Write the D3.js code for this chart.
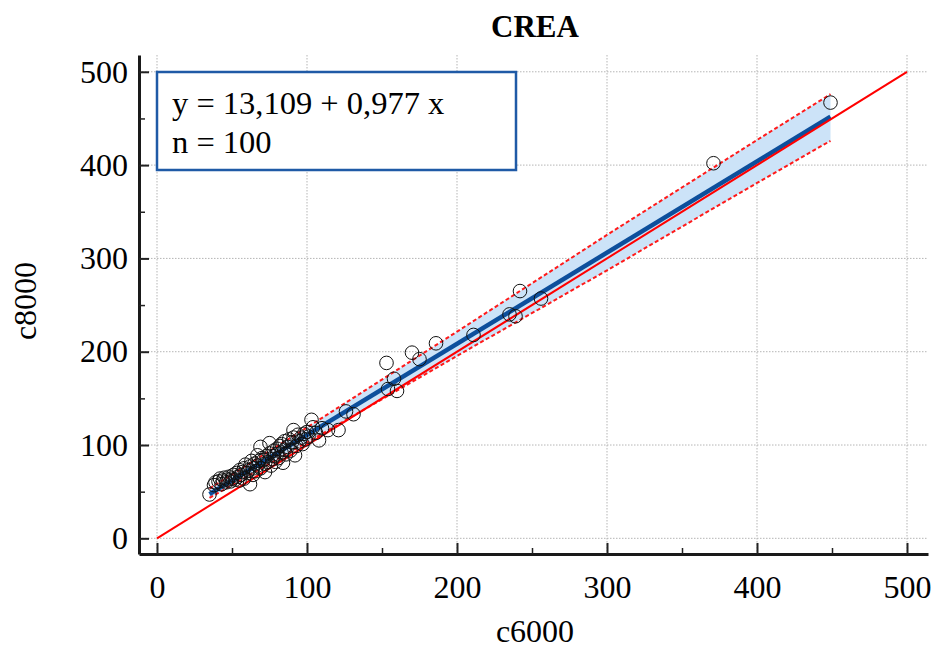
<!DOCTYPE html>
<html>
<head>
<meta charset="utf-8">
<script src="https://cdn.jsdelivr.net/npm/d3@7"></script>
<style>
  html, body { margin: 0; padding: 0; background: #fff; }
  svg { display: block; }
  text { font-family: "Liberation Serif", "Times New Roman", serif; fill: #000; }
</style>
</head>
<body>
<svg id="chart" width="935" height="648"></svg>
<script>
// Method comparison: c6000 vs c8000 (CREA)
const title = "CREA";
const xLabel = "c6000";
const yLabel = "c8000";

const c6000 = [
  449, 371, 256, 242, 235, 239, 211, 186, 170, 175, 153, 158, 154, 160, 126, 131, 121, 114, 108, 104, 103, 110,
  35, 38, 39, 41, 42, 43, 44, 45, 46, 47,
  48, 49, 50, 51, 52, 53, 54, 55, 55, 56,
  57, 58, 58, 59, 60, 61, 62, 62, 63, 64,
  64, 65, 66, 67, 67, 68, 69, 69, 70, 71,
  72, 72, 73, 74, 75, 75, 76, 77, 78, 78,
  79, 80, 80, 81, 82, 83, 83, 84, 85, 85,
  86, 87, 88, 89, 90, 91, 91, 92, 93, 94,
  95, 96, 97, 98, 99, 100, 101, 106
];
const c8000 = [
  467, 402, 257, 265, 240, 238, 218, 209, 199, 192, 188, 171, 160, 158, 136, 133, 116, 116, 105, 119, 127, 118,
  47, 57, 60, 61, 64, 58, 62, 65, 60, 63,
  66, 61, 64, 68, 63, 70, 66, 73, 62, 68,
  71, 75, 64, 79, 70, 73, 58, 77, 83, 68,
  75, 80, 72, 89, 78, 83, 98, 75, 86, 84,
  71, 80, 88, 82, 102, 91, 78, 85, 94, 88,
  82, 96, 90, 86, 99, 101, 92, 81, 95, 104,
  90, 98, 106, 94, 103, 116, 108, 89, 99, 111,
  104, 108, 101, 112, 106, 114, 109, 113
];

// Fitted line (as printed in the legend) and its x extent
const intercept = 13.109;
const slope = 0.977;
const fitRange = [35, 449];

// Confidence band around the fitted line
const bandX     = [35,   100,   200,   300,   400,   449];
const bandUpper = [53.3, 118.8, 221.5, 325.2, 426.9, 476.0];
const bandLower = [43.3, 102.8, 195.5, 287.2, 380.9, 426.0];

// Identity line
const identity = [0, 500];

const majorTicks = [0, 100, 200, 300, 400, 500];
const minorTicks = [50, 150, 250, 350, 450];

const legendLines = ["y = 13,109 + 0,977 x", "n = 100"];

const svg = d3.select("#chart");

const x = d3.scaleLinear().domain([-12, 514]).range([139, 928]);
const y = d3.scaleLinear().domain([-16.8, 518]).range([554, 55]);

// grid
const grid = svg.append("g").attr("stroke", "#b5b5b5").attr("stroke-width", 1).attr("stroke-dasharray", "1.5,1.5");
grid.selectAll("line.v").data(majorTicks).join("line")
  .attr("x1", d => x(d)).attr("x2", d => x(d))
  .attr("y1", y.range()[1]).attr("y2", y.range()[0]);
grid.selectAll("line.h").data(majorTicks).join("line")
  .attr("y1", d => y(d)).attr("y2", d => y(d))
  .attr("x1", x.range()[0]).attr("x2", x.range()[1]);

// confidence band
const band = bandX.map((v, i) => ({ x: v, lo: bandLower[i], hi: bandUpper[i] }));
svg.append("path").datum(band)
  .attr("fill", "#cce3f8")
  .attr("d", d3.area().x(d => x(d.x)).y0(d => y(d.lo)).y1(d => y(d.hi)));

const line = d3.line().x(d => x(d[0])).y(d => y(d[1]));
[bandUpper, bandLower].forEach(arr => {
  svg.append("path").datum(bandX.map((v, i) => [v, arr[i]]))
    .attr("fill", "none").attr("stroke", "#ff1a1a").attr("stroke-width", 2)
    .attr("stroke-dasharray", "4,2.5").attr("d", line);
});

// fitted line
svg.append("path").datum(fitRange.map(v => [v, intercept + slope * v]))
  .attr("fill", "none").attr("stroke", "#0d4f9c").attr("stroke-width", 4.5).attr("d", line);

// identity line
svg.append("path").datum(identity.map(v => [v, v]))
  .attr("fill", "none").attr("stroke", "#ff0000").attr("stroke-width", 2).attr("d", line);

// points
svg.append("g").selectAll("circle").data(c6000.map((v, i) => [v, c8000[i]])).join("circle")
  .attr("cx", d => x(d[0])).attr("cy", d => y(d[1])).attr("r", 6.8)
  .attr("fill", "none").attr("stroke", "#111").attr("stroke-width", 1);

// axes
function styleAxis(g) {
  g.select(".domain").attr("stroke", "#1a1a1a").attr("stroke-width", 3);
  g.selectAll(".tick line").attr("stroke", "#222").attr("stroke-width", 2);
  g.selectAll(".tick text").attr("font-family", "Liberation Serif, Times New Roman, serif")
    .attr("font-size", 32).attr("fill", "#000");
}
const gx = svg.append("g").attr("transform", `translate(0,${y.range()[0]})`)
  .call(d3.axisBottom(x).tickValues(majorTicks).tickSize(-11).tickSizeOuter(0).tickPadding(12).tickFormat(d3.format("d")));
styleAxis(gx);
gx.selectAll(".tick text").attr("dy", "0.71em").attr("y", 21);
const gxm = svg.append("g").attr("transform", `translate(0,${y.range()[0]})`)
  .call(d3.axisBottom(x).tickValues(minorTicks).tickSize(-6).tickSizeOuter(0).tickFormat(""));
gxm.select(".domain").remove();
gxm.selectAll(".tick line").attr("stroke", "#222").attr("stroke-width", 1.5);

const gy = svg.append("g").attr("transform", `translate(${x.range()[0]},0)`)
  .call(d3.axisLeft(y).tickValues(majorTicks).tickSize(-10).tickSizeOuter(0).tickPadding(11).tickFormat(d3.format("d")));
styleAxis(gy);
const gym = svg.append("g").attr("transform", `translate(${x.range()[0]},0)`)
  .call(d3.axisLeft(y).tickValues(minorTicks).tickSize(-6).tickSizeOuter(0).tickFormat(""));
gym.select(".domain").remove();
gym.selectAll(".tick line").attr("stroke", "#222").attr("stroke-width", 1.5);

// legend box
const lg = svg.append("g");
lg.append("rect").attr("x", 157).attr("y", 72).attr("width", 359).attr("height", 98)
  .attr("fill", "#fff").attr("stroke", "#1f5aa6").attr("stroke-width", 2.5);
lg.selectAll("text").data(legendLines).join("text")
  .attr("x", 172).attr("y", (d, i) => 114 + i * 39)
  .attr("font-size", 32.5).text(d => d);

// titles
svg.append("text").attr("x", 535).attr("y", 37).attr("text-anchor", "middle")
  .attr("font-size", 31).attr("font-weight", "bold").text(title);
svg.append("text").attr("x", 535).attr("y", 642).attr("text-anchor", "middle")
  .attr("font-size", 32).text(xLabel);
svg.append("text").attr("transform", "translate(36,301) rotate(-90)").attr("text-anchor", "middle")
  .attr("font-size", 32).text(yLabel);
</script>
</body>
</html>
